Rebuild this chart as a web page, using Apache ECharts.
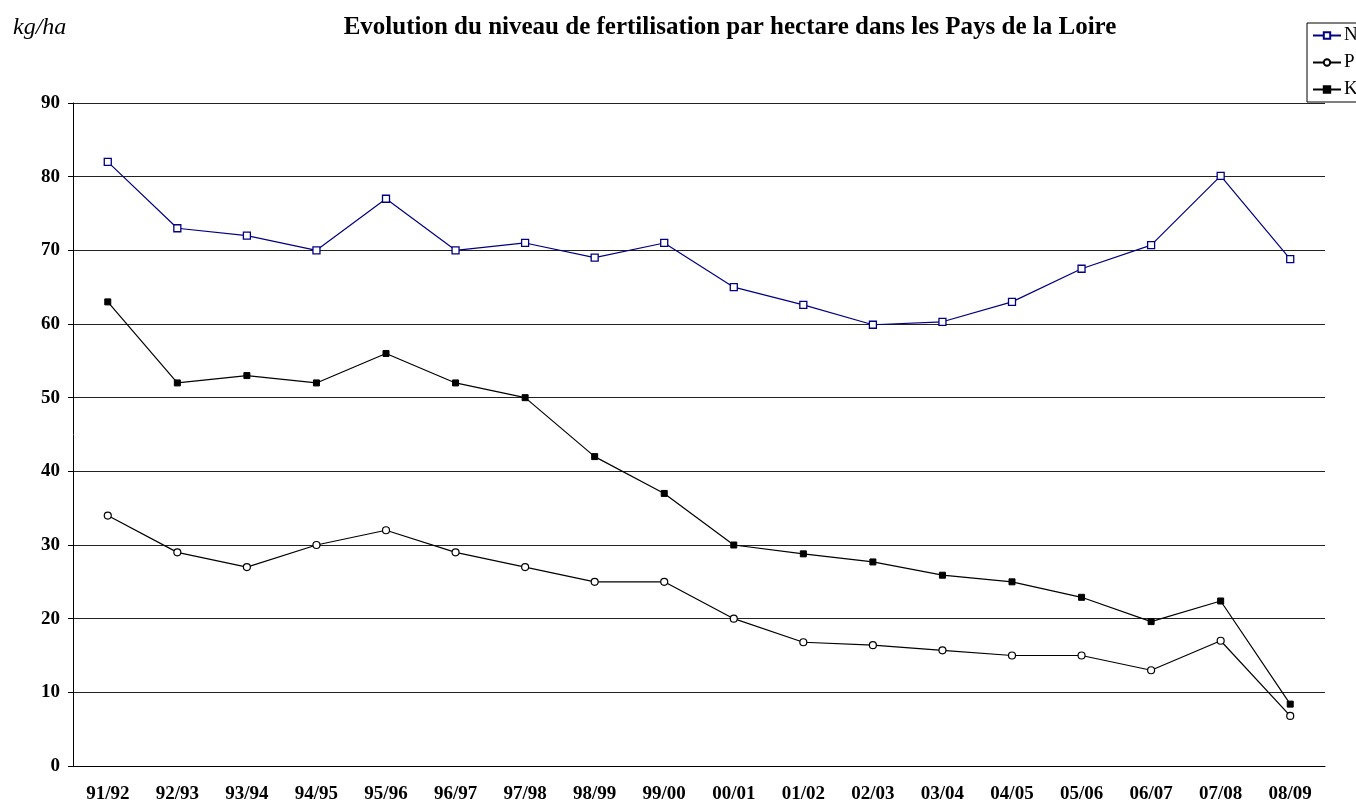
<!DOCTYPE html>
<html><head><meta charset="utf-8">
<script src="https://cdn.jsdelivr.net/npm/echarts@6/dist/echarts.min.js"></script>
<style>html,body{margin:0;padding:0;background:#fff}#c{width:1356px;height:801px}</style>
</head><body><div id="c"></div>
<script>
const categories = ['91/92','92/93','93/94','94/95','95/96','96/97','97/98','98/99','99/00','00/01','01/02','02/03','03/04','04/05','05/06','06/07','07/08','08/09'];
const seriesN = [82,73,72,70,77,70,71,69,71,65,62.6,59.9,60.3,63,67.5,70.7,80.1,68.8];
const seriesP = [34,29,27,30,32,29,27,25,25,20,16.8,16.4,15.7,15,15,13,17,6.8];
const seriesK = [63,52,53,52,56,52,50,42,37,30,28.8,27.7,25.9,25,22.9,19.6,22.4,8.4];
const yTicks = {min:0, max:90, interval:10};
const F = '"Liberation Serif","Times New Roman",serif';
const chart = echarts.init(document.getElementById('c'));
chart.setOption({
  animation:false,
  backgroundColor:'#fff',
  title:[
    {text:'Evolution du niveau de fertilisation par hectare dans les Pays de la Loire', left:725, textAlign:'center', top:10,
     textStyle:{fontFamily:F,fontSize:25,fontWeight:'bold',color:'#000'}},
    {text:'kg/ha', left:8, top:11, textStyle:{fontFamily:F,fontSize:24,fontStyle:'italic',fontWeight:'normal',color:'#000'}}
  ],
  legend:{
    orient:'vertical', left:1307, top:23, padding:[3,30,3,5], itemGap:8,
    borderColor:'#000', borderWidth:1, itemWidth:28, itemHeight:8,
    textStyle:{fontFamily:F,fontSize:19,color:'#000',padding:[0,0,0,-2]},
    data:['N','P','K']
  },
  grid:{left:73, right:31, top:103, bottom:35, outerBoundsMode:'none', containLabel:false},
  xAxis:{type:'category', data:categories, boundaryGap:true,
    axisLine:{lineStyle:{color:'#000',width:1}}, axisTick:{show:false},
    axisLabel:{fontFamily:F,fontSize:19,fontWeight:'bold',color:'#000',margin:19,lineHeight:19,interval:0}},
  yAxis:{type:'value', min:yTicks.min, max:yTicks.max, interval:yTicks.interval,
    axisLine:{show:true,lineStyle:{color:'#000',width:1}},
    axisTick:{show:true,length:5,lineStyle:{color:'#000'}},
    splitLine:{lineStyle:{color:'#222',width:1}},
    axisLabel:{fontFamily:F,fontSize:19,fontWeight:'bold',color:'#000',margin:13}},
  series:[
    {name:'N', type:'line', data:seriesN, symbol:'rect', symbolSize:7, color:'#000080',
      lineStyle:{color:'#000080',width:1.2}, itemStyle:{color:'#fff',borderColor:'#000080',borderWidth:1.3}},
    {name:'P', type:'line', data:seriesP, symbol:'circle', symbolSize:7, color:'#000',
      lineStyle:{color:'#000',width:1.2}, itemStyle:{color:'#fff',borderColor:'#000',borderWidth:1.2}},
    {name:'K', type:'line', data:seriesK, symbol:'rect', symbolSize:6, color:'#000',
      lineStyle:{color:'#000',width:1.2}, itemStyle:{color:'#000',borderColor:'#000',borderWidth:1}}
  ]
});
</script></body></html>
